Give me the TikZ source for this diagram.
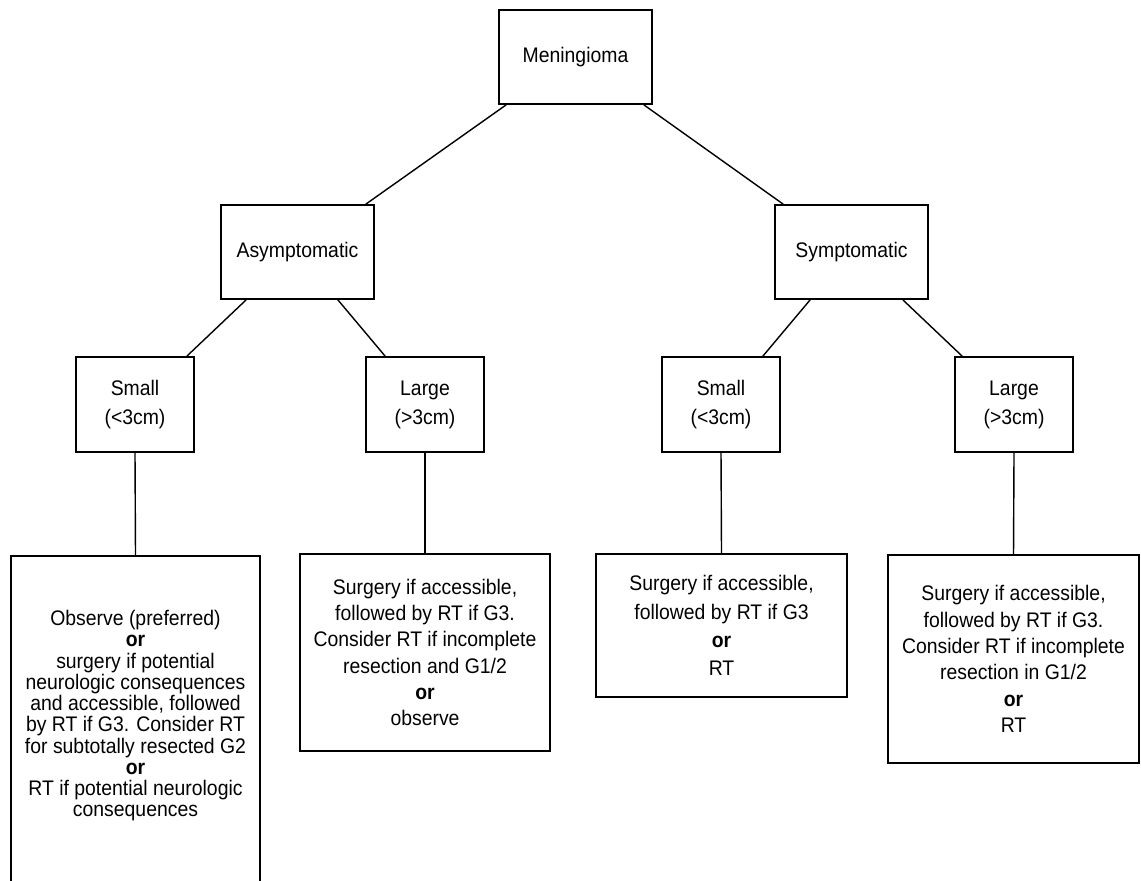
\documentclass[tikz,border=0pt]{standalone}
\usepackage{fontspec}
\setmainfont[FakeStretch=0.92]{Liberation Sans}
\usetikzlibrary{calc}
\begin{document}
\begin{tikzpicture} [x=0.02cm, y=-0.02cm,
    box/.style={draw, line width=1pt, align=center, inner sep=0pt, font=\fontsize{12}{15}\selectfont},
    sizebox/.style={box, minimum width=2.36cm, minimum height=1.9cm, font=\fontsize{12}{16.5}\selectfont},
    link/.style={line width=0.8pt}]
    \useasboundingbox (0,0) rectangle (1141,881);
    \clip (0,0) rectangle (1141,881);

    \node[box, minimum width=3.06cm, minimum height=1.88cm] (mening) at (575.5,57) {Meningioma};
    \node[box, minimum width=3.06cm, minimum height=1.88cm] (asym) at (297.5,252) {Asymptomatic};
    \node[box, minimum width=3.06cm, minimum height=1.88cm] (symp) at (851.5,252) {Symptomatic};

    \node[sizebox] (smallA) at (135,404.5) {Small\\(<3cm)};
    \node[sizebox] (largeA) at (425,404.5) {Large\\(>3cm)};
    \node[sizebox] (smallS) at (721,404.5) {Small\\(<3cm)};
    \node[sizebox] (largeS) at (1014,404.5) {Large\\(>3cm)};

    % treatment boxes
    \node[box, anchor=north, minimum width=4.98cm, minimum height=6.7cm, text depth=11pt,
          font=\fontsize{12}{12.1}\selectfont] (treatAS) at (135.5,555)
        {Observe (preferred)\\\textbf{or}\\surgery if potential\\neurologic consequences\\and accessible, followed\\by RT if G3. Consider RT\\for subtotally resected G2\\\textbf{or}\\RT if potential neurologic\\consequences};
    \node[box, minimum width=5cm, minimum height=3.94cm] (treatAL) at (425,652.5)
        {Surgery if accessible,\\followed by RT if G3.\\Consider RT if incomplete\\resection and G1/2\\\textbf{or}\\observe};
    \node[box, minimum width=5.02cm, minimum height=2.86cm, font=\fontsize{12}{16}\selectfont] (treatSS) at (721.5,625.5)
        {Surgery if accessible,\\followed by RT if G3\\\textbf{or}\\RT};
    \node[box, minimum width=5.02cm, minimum height=4.16cm] (treatSL) at (1013.5,659)
        {Surgery if accessible,\\followed by RT if G3.\\Consider RT if incomplete\\resection in G1/2\\\textbf{or}\\RT};

    \draw[link] ($(mening.south west)+(8,0)$) -- ($(asym.north east)+(-9,0)$);
    \draw[link] ($(mening.south east)+(-9,0)$) -- ($(symp.north west)+(9,0)$);
    \draw[link] ($(asym.south west)+(26,0)$) -- ($(smallA.north east)+(-8,0)$);
    \draw[link] ($(asym.south east)+(-37,0)$) -- ($(largeA.north west)+(20,0)$);
    \draw[link] ($(symp.south west)+(36,0)$) -- ($(smallS.north east)+(-18,0)$);
    \draw[link] ($(symp.south east)+(-26,0)$) -- ($(largeS.north west)+(8,0)$);

    \foreach \a/\b in {smallA/treatAS, largeA/treatAL, smallS/treatSS, largeS/treatSL}
        \draw[link] (\a.south) -- (\b.north);
\end{tikzpicture}
\end{document}
